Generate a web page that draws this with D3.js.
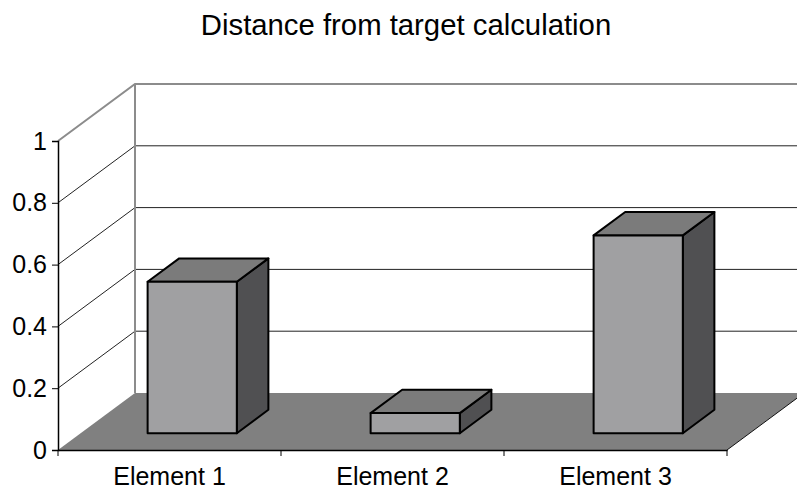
<!DOCTYPE html>
<html>
<head>
<meta charset="utf-8">
<script src="https://cdn.jsdelivr.net/npm/d3@7"></script>
<style>
  html, body { margin: 0; padding: 0; background: #fff; }
  svg { display: block; font-family: "Liberation Sans", Arial, sans-serif; }
</style>
</head>
<body>
<svg id="chart" width="797" height="492"></svg>
<script>
// Chart data
const categories = ["Element 1", "Element 2", "Element 3"];
const values = [0.49, 0.065, 0.64];
const yTicks = [0, 0.2, 0.4, 0.6, 0.8, 1];
const title = "Distance from target calculation";

const svg = d3.select("#chart");
const W = 797, H = 492;

// Front plane of the plot box
const x0 = 58, x1 = 727, yBottom = 450, yTop = 141;
// Oblique offset of the back wall relative to the front plane
const DX = 77, DY = -57;
// Bars sit between these depth fractions
const dFront = 0.295, dBack = 0.705;

const x = d3.scaleBand().domain(categories).range([x0, x1])
  .paddingInner(0.6).paddingOuter(0.3);
const xCat = d3.scaleBand().domain(categories).range([x0, x1]).padding(0);
const y = d3.scaleLinear().domain([0, 1]).range([yBottom, yTop]);

// project (front-plane x, value, depth fraction) to screen
const P = (px, v, d) => [px + d * DX, y(v) + d * DY];
const line = d3.line();

// Title
svg.append("text")
  .attr("x", 406).attr("y", 35)
  .attr("text-anchor", "middle")
  .attr("font-size", 29.3)
  .attr("fill", "#000")
  .text(title);

const plot = svg.append("g");

// Floor
plot.append("path")
  .attr("d", line([P(x0, 0, 0), P(x0, 0, 1), P(x1, 0, 1), P(x1, 0, 0)]) + "Z")
  .attr("fill", "#808080");
// Floor right edge
plot.append("path")
  .attr("d", line([P(x1, 0, 0), P(x1, 0, 1)]))
  .attr("stroke", "#111").attr("stroke-width", 1).attr("fill", "none");

// Gridlines on the side wall and back wall
const grid = yTicks.filter(t => t > 0);
grid.forEach(t => {
  const top = t === 1;
  plot.append("path")
    .attr("d", line([P(x0, t, 0), P(x0, t, 1), [W + 20, y(t) + DY]]))
    .attr("fill", "none")
    .attr("stroke", top ? "#8c8c8c" : "#222")
    .attr("stroke-width", top ? 2 : 1);
});
// Back wall left edge
plot.append("path")
  .attr("d", line([P(x0, 0, 1), P(x0, 1, 1)]))
  .attr("stroke", "#8c8c8c").attr("stroke-width", 2).attr("fill", "none");

// Bars
const bars = plot.selectAll("g.bar").data(categories.map((c, i) => ({ c, v: values[i] })))
  .join("g").attr("class", "bar");

bars.each(function (d) {
  const g = d3.select(this);
  const bl = x(d.c), br = x(d.c) + x.bandwidth();
  const style = sel => sel.attr("stroke", "#000").attr("stroke-width", 2)
    .attr("stroke-linejoin", "round");
  // right side face
  g.append("path")
    .attr("d", line([P(br, 0, dFront), P(br, 0, dBack), P(br, d.v, dBack), P(br, d.v, dFront)]) + "Z")
    .attr("fill", "#505052").call(style);
  // top face
  g.append("path")
    .attr("d", line([P(bl, d.v, dFront), P(bl, d.v, dBack), P(br, d.v, dBack), P(br, d.v, dFront)]) + "Z")
    .attr("fill", "#7b7b7b").call(style);
  // front face
  g.append("path")
    .attr("d", line([P(bl, 0, dFront), P(bl, d.v, dFront), P(br, d.v, dFront), P(br, 0, dFront)]) + "Z")
    .attr("fill", "#a0a0a2").call(style);
});

// Y axis
const yAxis = svg.append("g")
  .attr("transform", `translate(${x0},0)`)
  .call(d3.axisLeft(y).tickValues(yTicks).tickFormat(d3.format("")).tickSize(6).tickPadding(5));
yAxis.selectAll("text").attr("font-size", 25).attr("fill", "#000")
  .attr("font-family", "Liberation Sans, Arial, sans-serif");
yAxis.select(".domain").attr("stroke", "#000").attr("stroke-width", 1.5);
yAxis.selectAll(".tick line").attr("stroke", "#000");

// X axis: labels at category centres, ticks at category boundaries
const xAxis = svg.append("g")
  .attr("transform", `translate(0,${yBottom})`)
  .call(d3.axisBottom(xCat).tickSize(0).tickPadding(17));
xAxis.selectAll("text").attr("font-size", 25).attr("fill", "#000")
  .attr("font-family", "Liberation Sans, Arial, sans-serif");
xAxis.select(".domain").attr("stroke", "#000").attr("stroke-width", 1.5);
const bounds = [x0].concat(categories.map(c => xCat(c) + xCat.bandwidth()));
xAxis.selectAll("line.bound").data(bounds).join("line").attr("class", "bound")
  .attr("x1", d => d).attr("x2", d => d).attr("y1", 0).attr("y2", 6)
  .attr("stroke", "#000").attr("stroke-width", 1);
</script>
</body>
</html>
